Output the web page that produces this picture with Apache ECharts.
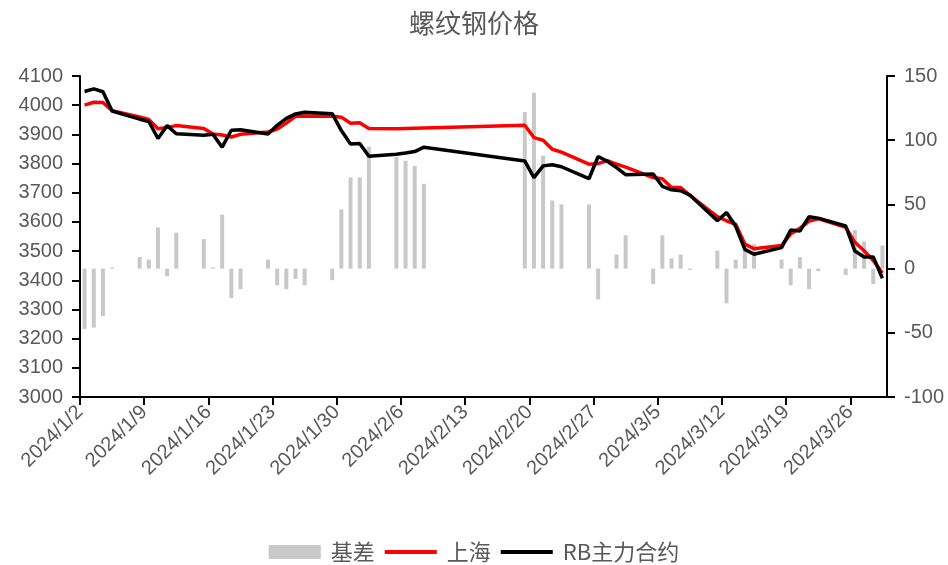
<!DOCTYPE html>
<html>
<head>
<meta charset="utf-8">
<script src="https://cdn.jsdelivr.net/npm/echarts@6/dist/echarts.min.js"></script>
<style>
  html, body { margin: 0; padding: 0; background: #fff; }
  #chart { width: 948px; height: 565px; }
</style>
</head>
<body>
<div id="chart"></div>
<script>
const dates = [
  '2024/1/2', '2024/1/3', '2024/1/4', '2024/1/5', '2024/1/8', '2024/1/9', '2024/1/10', '2024/1/11', '2024/1/12',
  '2024/1/15', '2024/1/16', '2024/1/17', '2024/1/18', '2024/1/19', '2024/1/22', '2024/1/23', '2024/1/24',
  '2024/1/25', '2024/1/26', '2024/1/29', '2024/1/30', '2024/1/31',
  '2024/2/1', '2024/2/2', '2024/2/5', '2024/2/6', '2024/2/7', '2024/2/8', '2024/2/19', '2024/2/20', '2024/2/21',
  '2024/2/22', '2024/2/23', '2024/2/26', '2024/2/27', '2024/2/28', '2024/2/29',
  '2024/3/1', '2024/3/4', '2024/3/5', '2024/3/6', '2024/3/7', '2024/3/8', '2024/3/11', '2024/3/12', '2024/3/13',
  '2024/3/14', '2024/3/15', '2024/3/18', '2024/3/19', '2024/3/20', '2024/3/21', '2024/3/22', '2024/3/25',
  '2024/3/26', '2024/3/27', '2024/3/28', '2024/3/29'
]

// 上海 spot
const shanghai = [
  4000, 4010, 4009, 3981, 3960, 3951, 3919, 3924, 3930, 3920, 3901, 3898, 3891, 3900, 3908, 3918, 3939, 3962, 3963, 3962, 3959, 3938,
  3940, 3920, 3919, 3920, 3921, 3922, 3931, 3889, 3880, 3849, 3839, 3798, 3800, 3810, 3798,
  3788, 3752, 3748, 3718, 3718, 3691, 3618, 3604, 3592, 3524, 3508, 3519, 3559, 3578, 3603, 3611, 3581, 3530, 3501, 3468, 3425
]

// RB主力合约
const rbMain = [
  4047, 4056, 4046, 3980, 3952, 3944, 3886, 3930, 3902, 3897, 3900, 3856, 3914, 3916, 3901, 3931, 3955, 3970, 3976, 3971, 3913, 3867,
  3869, 3825, 3832, 3836, 3841, 3856, 3809, 3752, 3792, 3796, 3789, 3748, 3824, 3808, 3786,
  3762, 3764, 3722, 3710, 3707, 3692, 3604, 3632, 3585, 3506, 3489, 3512, 3572, 3569, 3618, 3613, 3586, 3500, 3480, 3480, 3407
]

// 基差
const basis = [
  -47, -46, -37, 1, 9, 7, 32, -6, 28, 23, 1, 42, -23, -16, 7, -13, -16, -8, -13, -9, 46, 71,
  71, 95, 87, 84, 80, 66, 122, 137, 88, 53, 50, 50, -24, 0, 11,
  26, -12, 26, 8, 11, -1, 14, -27, 7, 18, 19, 7, -13, 9, -16, -2, -5, 30, 21, -12, 18
]

const tickDates = [
  '2024/1/2', '2024/1/9', '2024/1/16', '2024/1/23', '2024/1/30', '2024/2/6', '2024/2/13',
  '2024/2/20', '2024/2/27', '2024/3/5', '2024/3/12', '2024/3/19', '2024/3/26'
]

const DAY = 86400000
const toDate = s => {
  const [y, m, d] = s.split('/').map(Number)
  return Date.UTC(y, m - 1, d)
}
const start = toDate(dates[0])
const dayOffset = s => Math.round((toDate(s) - start) / DAY)
const fmtDate = v => {
  const d = new Date(start + v * DAY)
  return d.getUTCFullYear() + '/' + (d.getUTCMonth() + 1) + '/' + d.getUTCDate()
}

// each trading day sits in the middle of its day slot
const pairs = vals => dates.map((s, i) => [dayOffset(s) + 0.5, vals[i]])
const tickValues = tickDates.map(dayOffset)

const gray = '#595959'
const numFont = 'Liberation Sans'
const cjkFont = 'Noto Sans CJK SC'
const lineIcon = 'path://M0,0 L53,0 L53,4 L0,4 Z'

const chart = echarts.init(document.getElementById('chart'))

const option = {
  animation: false,
  title: {
    text: '螺纹钢价格',
    left: 'center',
    top: 5,
    textStyle: { color: gray, fontSize: 26, fontWeight: 'normal', fontFamily: cjkFont }
  },
  legend: {
    top: 536,
    left: 'center',
    itemWidth: 52,
    itemHeight: 14,
    itemGap: 10,
    textStyle: { color: gray, fontSize: 22, fontFamily: cjkFont, padding: [0, 0, 0, 5] },
    data: [
      { name: '基差', icon: 'rect' },
      { name: '上海', icon: lineIcon },
      { name: 'RB主力合约', icon: lineIcon }
    ]
  },
  grid: { left: 80, right: 61, top: 76, bottom: 168, containLabel: false },
  xAxis: {
    type: 'value',
    min: 0,
    max: 88,
    interval: 7,
    splitLine: { show: false },
    axisLine: { onZero: false, lineStyle: { color: '#000', width: 2 } },
    axisTick: { length: 8, lineStyle: { color: '#000', width: 2 }, customValues: tickValues },
    axisLabel: {
      rotate: 45,
      margin: 12,
      color: gray,
      fontSize: 20,
      fontFamily: numFont,
      customValues: tickValues,
      formatter: v => fmtDate(v)
    }
  },
  yAxis: [
    {
      type: 'value',
      min: 3000,
      max: 4100,
      interval: 100,
      splitLine: { show: false },
      axisLine: { show: true, lineStyle: { color: '#000', width: 2 } },
      axisTick: { show: true, length: 8, lineStyle: { color: '#000', width: 2 } },
      axisLabel: { color: gray, fontSize: 20, fontFamily: numFont, margin: 17, formatter: v => String(v) }
    },
    {
      type: 'value',
      min: -100,
      max: 150,
      interval: 50,
      splitLine: { show: false },
      axisLine: { show: true, lineStyle: { color: '#000', width: 2 } },
      axisTick: { show: true, length: 8, lineStyle: { color: '#000', width: 2 } },
      axisLabel: { color: gray, fontSize: 20, fontFamily: numFont, margin: 17, formatter: v => String(v) }
    }
  ],
  series: [
    {
      name: '基差',
      type: 'bar',
      yAxisIndex: 1,
      barWidth: 4,
      itemStyle: { color: '#c8c8c8' },
      data: pairs(basis)
    },
    {
      name: '上海',
      type: 'line',
      yAxisIndex: 0,
      symbol: 'none',
      lineStyle: { color: '#ff0000', width: 3.5 },
      itemStyle: { color: '#ff0000' },
      data: pairs(shanghai)
    },
    {
      name: 'RB主力合约',
      type: 'line',
      yAxisIndex: 0,
      symbol: 'none',
      lineStyle: { color: '#000000', width: 3.5 },
      itemStyle: { color: '#000000' },
      data: pairs(rbMain)
    }
  ]
}

chart.setOption(option)
</script>
</body>
</html>
